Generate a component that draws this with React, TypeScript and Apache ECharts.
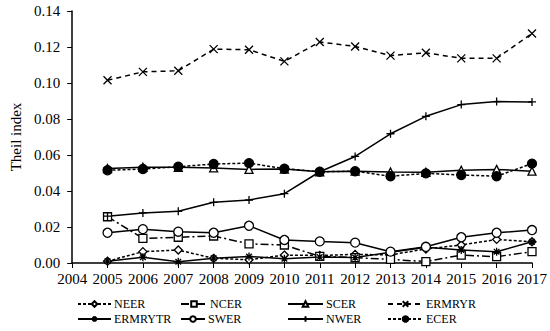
import React, { useEffect, useRef } from "react";
import * as echarts from "echarts";

const years = [2005, 2006, 2007, 2008, 2009, 2010, 2011, 2012, 2013, 2014, 2015, 2016, 2017];
const NEER = [0.001, 0.0063, 0.0072, 0.0026, 0.0018, 0.0044, 0.0042, 0.0048, 0.0045, 0.0078, 0.0100, 0.0131, 0.0118];
const NCER = [0.0257, 0.0137, 0.0143, 0.0150, 0.0106, 0.0100, 0.0037, 0.0030, 0.0020, 0.0008, 0.0044, 0.0035, 0.0063];
const SCER = [0.0525, 0.0532, 0.0532, 0.0528, 0.0520, 0.0522, 0.0507, 0.0510, 0.0506, 0.0504, 0.0515, 0.0520, 0.0510];
const ERMRYR = [0.1015, 0.1062, 0.1068, 0.1188, 0.1185, 0.1120, 0.1228, 0.1203, 0.1152, 0.1168, 0.1137, 0.1137, 0.1275];
const ERMRYTR = [0.0010, 0.0032, 0.0007, 0.0027, 0.0036, 0.0024, 0.0033, 0.0030, 0.0060, 0.0088, 0.0072, 0.0063, 0.0118];
const SWER = [0.0168, 0.0188, 0.0174, 0.0168, 0.0207, 0.0128, 0.0120, 0.0113, 0.0063, 0.0090, 0.0143, 0.0168, 0.0183];
const NWER = [0.0260, 0.0278, 0.0287, 0.0337, 0.0350, 0.0385, 0.0507, 0.0592, 0.0718, 0.0815, 0.0880, 0.0897, 0.0895];
const ECER = [0.0515, 0.0522, 0.0535, 0.0550, 0.0555, 0.0524, 0.0507, 0.0510, 0.0482, 0.0498, 0.0489, 0.0482, 0.0552];

const yTicks = [0, 0.02, 0.04, 0.06, 0.08, 0.1, 0.12, 0.14];

const CROSS = "path://M1,1L9,9M9,1L1,9";
const PLUS = "path://M5,0L5,10M0,5L10,5";
const STAR = "path://M5,0L5,10M0,5L10,5M1.5,1.5L8.5,8.5M8.5,1.5L1.5,8.5";

const FONT = "Liberation Serif";

export default function App() {
  const ref = useRef<HTMLDivElement>(null);
  useEffect(() => {
    if (!ref.current) return;
    const chart = echarts.init(ref.current, null, { renderer: "svg" });
    const pair = (arr: number[]) => years.map((y, i) => [y, arr[i]]);
    const defs: any[] = [
      { name: "NEER", data: NEER, symbol: "diamond", size: 8, fill: "#fff", line: [3, 2] },
      { name: "NCER", data: NCER, symbol: "rect", size: 8, fill: "#fff", line: [8, 3, 2, 3] },
      { name: "SCER", data: SCER, symbol: "triangle", size: 8, fill: "#fff", line: "solid" },
      { name: "ERMRYR", data: ERMRYR, symbol: CROSS, size: 8, fill: "none", line: [5, 4] },
      { name: "ERMRYTR", data: ERMRYTR, symbol: STAR, size: 8, fill: "none", line: "solid" },
      { name: "SWER", data: SWER, symbol: "circle", size: 9, fill: "#fff", line: "solid" },
      { name: "NWER", data: NWER, symbol: PLUS, size: 8, fill: "none", line: "solid" },
      { name: "ECER", data: ECER, symbol: "circle", size: 9, fill: "#000", line: [3, 2] },
    ];
    const series = defs.map((d) => ({
      type: "line",
      name: d.name,
      data: pair(d.data),
      symbol: d.symbol,
      symbolSize: d.size,
      showAllSymbol: true,
      lineStyle: { color: "#000", width: 1.5, type: d.line },
      itemStyle: { color: d.fill === "none" ? "#000" : d.fill, borderColor: "#000", borderWidth: 1.3, opacity: 1 },
      emphasis: { disabled: true },
    }));
    const legendPos = [
      { left: 77, top: 298, w: 33 },
      { left: 180, top: 298, w: 26 },
      { left: 287, top: 298, w: 35 },
      { left: 387, top: 298, w: 35 },
      { left: 77, top: 313, w: 33 },
      { left: 180, top: 313, w: 24 },
      { left: 287, top: 313, w: 35 },
      { left: 387, top: 313, w: 35 },
    ];
    const legend = defs.map((d, i) => ({
      data: [d.name],
      left: legendPos[i].left,
      top: legendPos[i].top,
      itemWidth: legendPos[i].w,
      itemHeight: 7,
      padding: 0,
      itemGap: 0,
      selectedMode: false,
      textStyle: { fontFamily: FONT, fontSize: 12, lineHeight: 11, color: "#000", padding: [0, 0, 0, -2] },
    }));
    chart.setOption({
      animation: false,
      backgroundColor: "#fff",
      grid: { left: 72, right: 18, top: 11, bottom: 68, containLabel: false },
      legend,
      xAxis: {
        type: "value",
        min: 2004,
        max: 2017,
        interval: 1,
        axisLine: { show: true, lineStyle: { color: "#000", width: 1.5 } },
        axisTick: { show: true, length: 5, lineStyle: { color: "#000" } },
        splitLine: { show: false },
        axisLabel: { color: "#000", fontFamily: FONT, fontSize: 15, margin: 8, formatter: (v: number) => String(v) },
      },
      yAxis: {
        type: "value",
        min: yTicks[0],
        max: yTicks[yTicks.length - 1],
        interval: 0.02,
        name: "Theil index",
        nameLocation: "middle",
        nameGap: 47,
        nameRotate: 90,
        nameTextStyle: { color: "#000", fontFamily: FONT, fontSize: 15 },
        axisLine: { show: true, lineStyle: { color: "#000", width: 1.5 } },
        axisTick: { show: true, length: 5, lineStyle: { color: "#000" } },
        splitLine: { show: false },
        axisLabel: { color: "#000", fontFamily: FONT, fontSize: 15, margin: 12, formatter: (v: number) => v.toFixed(2) },
      },
      series,
    });
    return () => chart.dispose();
  }, []);
  return <div ref={ref} style={{ width: 550, height: 331, position: "absolute", left: 0, top: 0 }} />;
}
